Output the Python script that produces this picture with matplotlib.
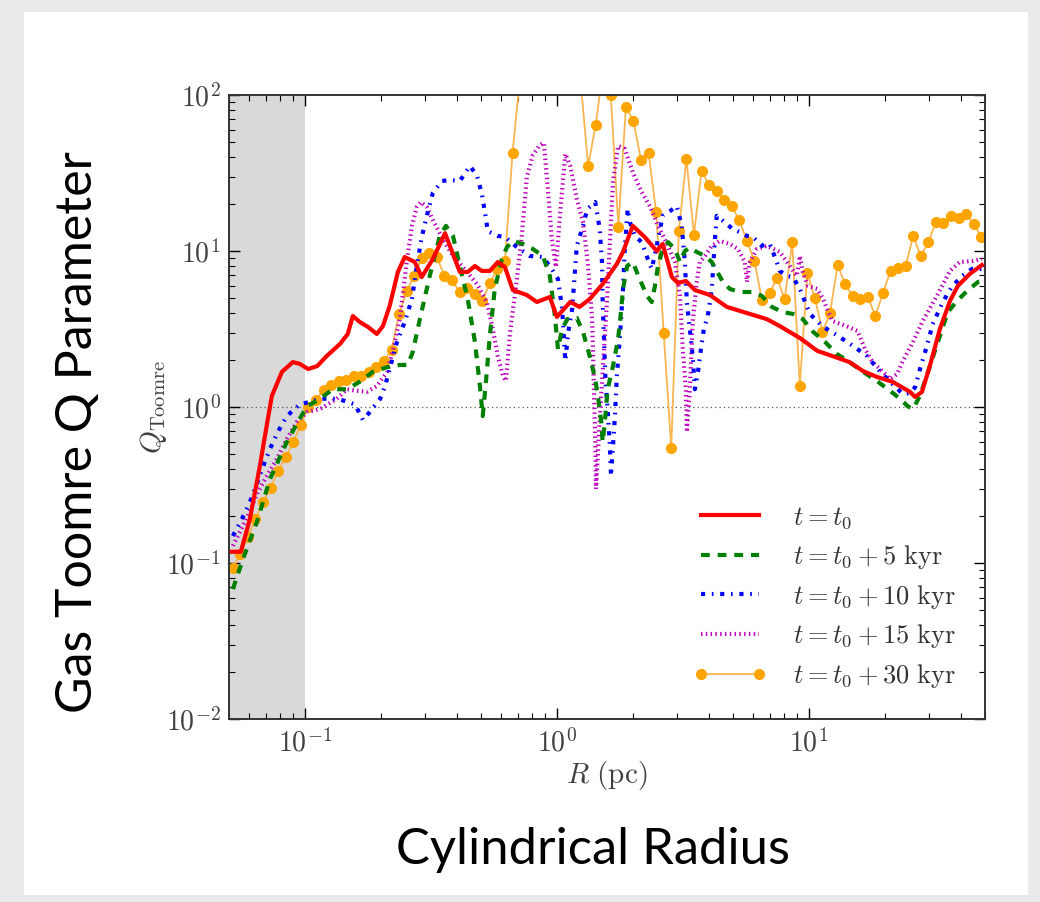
import numpy as np
import matplotlib
matplotlib.use('Agg')
import matplotlib.pyplot as plt
from matplotlib.patches import Rectangle
from matplotlib.ticker import FuncFormatter

plt.rcParams['mathtext.fontset'] = 'cm'
plt.rcParams['font.family'] = ['DejaVu Sans']

# radial bins of the profile (100 log bins between 0.05 and 50 pc)
r_edges = np.logspace(np.log10(0.05), np.log10(50.0), 101)
r_bins = np.sqrt(r_edges[1:] * r_edges[:-1])

# t = t0
r_t0 = [0.0513, 0.0557, 0.0605, 0.0663, 0.0713, 0.0740, 0.0811, 0.0896, 0.0955, 0.103,
        0.112, 0.122, 0.138, 0.148, 0.155, 0.165, 0.178, 0.193, 0.204, 0.217,
        0.234, 0.249, 0.273, 0.291, 0.322, 0.360, 0.412, 0.443, 0.473, 0.504,
        0.542, 0.583, 0.622, 0.669, 0.760, 0.833, 0.938, 1.0, 1.13, 1.23,
        1.35, 1.52, 1.73, 1.83, 2.00, 2.23, 2.49, 2.63, 2.86, 3.02,
        3.25, 3.53, 4.05, 4.73, 5.68, 6.81, 7.67, 9.21, 10.8, 12.4,
        14.5, 16.4, 18.6, 21.5, 25.2, 26.4, 28.1, 30.2, 33.1, 36.3,
        39.0, 43.5, 48.6]
q_t0 = [0.118, 0.118, 0.191, 0.419, 0.838, 1.18, 1.68, 1.94, 1.89, 1.75,
        1.83, 2.12, 2.54, 2.94, 3.83, 3.51, 3.26, 2.94, 3.30, 4.44,
        7.34, 9.15, 8.50, 6.81, 8.89, 13.0, 7.34, 7.34, 8.01, 7.45,
        7.45, 8.50, 7.89, 5.62, 5.22, 4.71, 5.07, 3.78, 4.71, 4.38,
        4.92, 6.14, 8.26, 9.86, 14.5, 12.3, 10.0, 11.1, 6.81, 6.24,
        6.42, 5.62, 5.22, 4.38, 4.00, 3.66, 3.30, 2.77, 2.29, 2.12,
        1.94, 1.70, 1.56, 1.45, 1.25, 1.16, 1.25, 1.83, 3.16, 4.78,
        5.97, 7.12, 8.13]

# t = t0 + 5 kyr
r_t5 = [0.0518, 0.0568, 0.0645, 0.0727, 0.0848, 0.0938, 0.102, 0.115, 0.129, 0.147,
        0.165, 0.186, 0.212, 0.238, 0.256, 0.268, 0.286, 0.313, 0.343, 0.363,
        0.387, 0.412, 0.443, 0.473, 0.495, 0.508, 0.523, 0.542, 0.567, 0.605,
        0.634, 0.669, 0.733, 0.803, 0.880, 0.938, 0.982, 1.01, 1.05, 1.10,
        1.20, 1.27, 1.35, 1.42, 1.46, 1.50, 1.52, 1.55, 1.59, 1.67,
        1.75, 1.79, 1.83, 1.90, 2.00, 2.13, 2.28, 2.38, 2.45, 2.52,
        2.61, 2.76, 2.94, 3.08, 3.22, 3.37, 3.59, 3.87, 4.12, 4.31,
        4.56, 4.86, 5.32, 6.00, 6.51, 7.13, 7.88, 8.64, 9.46, 10.4,
        11.6, 12.9, 14.5, 16.4, 18.6, 21.0, 23.0, 24.7, 25.9, 27.6,
        29.7, 32.5, 35.6, 38.7, 42.4, 46.9, 48.6]
q_t5 = [0.068, 0.106, 0.183, 0.345, 0.597, 0.801, 1.01, 1.13, 1.30, 1.30,
        1.45, 1.68, 1.80, 1.86, 1.86, 2.25, 3.66, 6.92, 12.5, 14.5,
        12.5, 8.01, 4.92, 2.61, 1.36, 0.875, 1.45, 2.85, 5.71, 8.89,
        10.6, 11.6, 11.1, 10.3, 9.29, 6.92, 3.83, 2.35, 3.16, 3.66,
        3.72, 3.03, 2.12, 1.51, 1.13, 0.801, 0.597, 0.801, 1.30, 1.83,
        2.73, 3.83, 5.71, 8.01, 8.50, 6.62, 5.15, 4.71, 5.97, 8.01,
        9.86, 11.4, 10.3, 8.50, 10.0, 10.5, 9.86, 9.29, 8.50, 7.45,
        6.33, 5.71, 5.46, 5.46, 5.15, 4.38, 4.06, 3.95, 3.66, 3.03,
        2.61, 2.19, 1.94, 1.68, 1.47, 1.27, 1.13, 1.01, 0.971, 1.18,
        1.68, 2.61, 4.06, 4.78, 5.54, 6.33, 6.42]

# t = t0 + 10 kyr
r_t10 = [0.0518, 0.0562, 0.0605, 0.0645, 0.0681, 0.0727, 0.0781, 0.0848, 0.0955, 0.105,
         0.115, 0.135, 0.158, 0.170, 0.181, 0.199, 0.208, 0.217, 0.232, 0.249,
         0.266, 0.278, 0.291, 0.308, 0.322, 0.350, 0.376, 0.412, 0.452, 0.482,
         0.504, 0.518, 0.532, 0.583, 0.622, 0.694, 0.782, 0.880, 0.955, 1.01,
         1.05, 1.08, 1.11, 1.15, 1.20, 1.27, 1.32, 1.42, 1.48, 1.51,
         1.52, 1.54, 1.56, 1.59, 1.62, 1.64, 1.70, 1.73, 1.78, 1.83,
         1.86, 1.91, 1.95, 2.04, 2.17, 2.28, 2.38, 2.49, 2.63, 2.81,
         2.99, 3.13, 3.22, 3.28, 3.37, 3.46, 3.53, 3.63, 3.73, 3.83,
         3.97, 4.12, 4.24, 4.31, 4.64, 4.99, 5.32, 5.68, 6.00, 6.51,
         7.00, 7.46, 7.67, 8.18, 8.64, 9.21, 10.1, 11.3, 12.9, 15.0,
         17.0, 19.1, 21.5, 23.6, 25.2, 26.4, 27.6, 29.4, 31.0, 34.0,
         36.9, 40.5, 44.4, 48.6]
q_t10 = [0.149, 0.191, 0.246, 0.321, 0.412, 0.538, 0.691, 0.875, 1.04, 1.08,
         1.13, 1.13, 1.04, 0.826, 0.929, 1.13, 1.36, 1.75, 2.61, 3.51,
         4.92, 8.01, 12.3, 18.0, 23.5, 28.1, 28.5, 28.1, 35.1, 30.3,
         23.2, 17.8, 13.4, 12.5, 12.3, 10.6, 9.29, 9.15, 7.67, 6.62,
         4.25, 1.97, 3.03, 4.25, 10.8, 14.5, 18.6, 20.6, 13.8, 8.50,
         4.71, 2.61, 1.45, 0.971, 0.597, 0.361, 0.875, 1.58, 2.85, 5.71,
         10.3, 18.6, 15.3, 12.5, 11.4, 9.15, 7.67, 10.8, 16.8, 18.0,
         19.4, 14.5, 8.50, 4.71, 3.16, 2.12, 1.30, 1.68, 2.35, 3.16,
         3.83, 5.71, 11.9, 16.8, 15.3, 13.8, 13.2, 12.5, 12.3, 10.8,
         11.1, 8.50, 7.45, 6.92, 6.81, 5.71, 3.95, 3.30, 2.89, 2.46,
         2.12, 1.70, 1.40, 1.21, 1.23, 1.34, 1.75, 2.46, 3.40, 4.71,
         5.88, 6.92, 7.67, 7.67]

# t = t0 + 15 kyr
r_t15 = [0.0518, 0.0552, 0.0594, 0.0651, 0.0706, 0.0774, 0.0848, 0.0929, 0.102, 0.115,
         0.134, 0.147, 0.161, 0.176, 0.193, 0.212, 0.223, 0.238, 0.254, 0.266,
         0.278, 0.289, 0.305, 0.322, 0.353, 0.387, 0.424, 0.482, 0.527, 0.557,
         0.583, 0.611, 0.628, 0.651, 0.694, 0.726, 0.760, 0.803, 0.857, 0.888,
         0.921, 0.955, 0.991, 1.03, 1.08, 1.13, 1.20, 1.27, 1.33, 1.38,
         1.40, 1.42, 1.43, 1.48, 1.54, 1.59, 1.67, 1.75, 1.86, 2.00,
         2.17, 2.34, 2.52, 2.68, 2.94, 3.08, 3.16, 3.25, 3.28, 3.37,
         3.46, 3.59, 3.69, 3.87, 4.12, 4.43, 4.86, 5.23, 5.57, 5.68,
         5.83, 6.22, 6.81, 7.67, 8.41, 8.96, 9.21, 9.46, 9.91, 10.8,
         11.4, 11.8, 12.4, 14.1, 15.6, 16.7, 17.9, 19.7, 21.0, 22.4,
         23.6, 25.9, 28.3, 32.2, 36.3, 39.7, 44.8, 48.6]
q_t15 = [0.129, 0.158, 0.200, 0.285, 0.361, 0.464, 0.624, 0.801, 0.929, 0.971,
         1.13, 1.30, 1.27, 1.25, 1.36, 1.68, 2.25, 3.66, 8.63, 14.5,
         19.1, 20.6, 19.1, 15.8, 11.9, 9.29, 7.89, 6.14, 4.71, 3.16,
         2.12, 1.58, 1.47, 2.94, 6.62, 12.5, 29.8, 41.2, 47.8, 49.3,
         25.0, 11.9, 7.89, 17.3, 41.9, 35.1, 21.5, 15.3, 8.0, 3.66,
         1.51, 0.624, 0.298, 0.838, 2.35, 5.71, 27.7, 47.1, 45.1, 32.1,
         23.9, 19.4, 14.5, 11.9, 8.5, 5.15, 2.35, 1.30, 0.691, 1.30,
         3.51, 6.33, 8.5, 9.29, 10.8, 11.6, 11.1, 10.3, 8.5, 6.33,
         8.5, 10.3, 10.8, 9.86, 8.0, 6.92, 9.29, 7.34, 5.97, 5.71,
         4.92, 4.25, 3.56, 3.30, 3.07, 2.35, 1.94, 1.68, 1.51, 1.63,
         1.97, 2.61, 3.56, 5.15, 7.45, 8.5, 8.63, 8.89]

# t = t0 + 30 kyr, one value per radial bin (values above 100 are off the plot)
q_t30 = [0.093, 0.114, 0.147, 0.191, 0.246, 0.303, 0.389, 0.478, 0.597, 0.767,
         1.00, 1.11, 1.29, 1.38, 1.47, 1.49, 1.58, 1.58, 1.68, 1.80,
         1.97, 2.32, 3.95, 5.54, 6.92, 9.02, 9.71, 9.16, 6.92, 6.52,
         5.46, 5.79, 5.30, 4.78, 6.24, 7.67, 8.63, 42.5, 130.0, 300.0,
         800.0, 500.0, 1000.0, 400.0, 600.0, 250.0, 125.0, 35.1, 64.2, 150.0,
         100.0, 14.3, 83.8, 68.1, 38.3, 42.5, 17.8, 2.98, 0.546, 13.4,
         38.9, 12.7, 32.6, 26.5, 24.3, 21.2, 19.4, 15.8, 11.6, 8.63,
         4.85, 5.38, 6.71, 4.92, 11.4, 1.36, 7.23, 5.00, 3.03, 4.00,
         8.13, 6.14, 5.13, 4.92, 5.07, 3.83, 5.38, 7.45, 7.78, 8.02,
         12.5, 9.29, 11.4, 15.3, 15.1, 16.8, 16.3, 17.3, 14.9, 12.3]

labels = [r'$t = t_0$',
          r'$t = t_0 + 5\ \mathrm{kyr}$',
          r'$t = t_0 + 10\ \mathrm{kyr}$',
          r'$t = t_0 + 15\ \mathrm{kyr}$',
          r'$t = t_0 + 30\ \mathrm{kyr}$']


def log_label(v, pos):
    return r'$10^{%d}$' % int(round(np.log10(v)))


fig = plt.figure(figsize=(10.4, 9.02), dpi=100)
fig.patch.set_facecolor('#e8eaec')
# white slide panel, kept behind the axes
fig.patches.append(Rectangle((24 / 1040, 7 / 902), 1004 / 1040, 883 / 902,
                             transform=fig.transFigure, facecolor='white',
                             edgecolor='none', zorder=-10))

ax = fig.add_axes([229 / 1040, 1 - 719 / 902, 756 / 1040, 624 / 902])
ax.set_zorder(5)
ax.set_xscale('log')
ax.set_yscale('log')

# inner region shaded
ax.axvspan(0.05, 0.1, color='#d9d9d9', lw=0, zorder=0)
ax.axhline(1.0, color='0.35', ls=(0, (1, 2.5)), lw=0.9, zorder=1)

ax.plot(r_t0, q_t0, color='red', lw=3, label=labels[0], zorder=6)
ax.plot(r_t5, q_t5, color='green', lw=3, ls=(0, (2.1, 1.9)), label=labels[1], zorder=5)
ax.plot(r_t10, q_t10, color='blue', lw=3, ls=(0, (1.0, 1.6, 0.4, 1.6)), label=labels[2], zorder=4)
ax.plot(r_t15, q_t15, color='m', lw=3, ls=(0, (0.35, 0.8)), label=labels[3], zorder=3)
ax.plot(r_bins, q_t30, color='#f9b550', lw=1.3, marker='o', ms=7,
        mfc='orange', mec='orange', label=labels[4], zorder=2)

ax.set_xlim(0.05, 50)
ax.set_ylim(1e-2, 1e2)

ax.xaxis.set_major_formatter(FuncFormatter(log_label))
ax.yaxis.set_major_formatter(FuncFormatter(log_label))

ax.tick_params(which='both', direction='in', top=True, right=True, labelsize=20,
               labelcolor='0.25')
ax.tick_params(which='major', length=8, width=1)
ax.tick_params(which='minor', length=4, width=0.8)
ax.tick_params(axis='x', pad=7)
ax.tick_params(axis='y', pad=6)
for s in ax.spines.values():
    s.set_linewidth(1.4)
    s.set_color('0.2')

ax.set_xlabel(r'$R\ (\mathrm{pc})$', fontsize=21, labelpad=1, color='0.25')
ax.set_ylabel(r'$Q_{\rm Toomre}$', fontsize=21, labelpad=-2, color='0.25')

leg = ax.legend(loc='lower right', frameon=False, fontsize=19, handlelength=2.8,
                handletextpad=1.0, labelspacing=0.45, borderaxespad=0.7,
                numpoints=2)
for t in leg.get_texts():
    t.set_color('0.2')

# slide annotations
fig.text(78 / 1040, 1 - 432 / 902, 'Gas Toomre Q Parameter', rotation=90,
         ha='center', va='center', fontsize=36, family='Lato')
fig.text(593 / 1040, 1 - 850 / 902, 'Cylindrical Radius',
         ha='center', va='center', fontsize=36.5, family='Lato')

fig.savefig('out.png', dpi=100, facecolor=fig.get_facecolor())
